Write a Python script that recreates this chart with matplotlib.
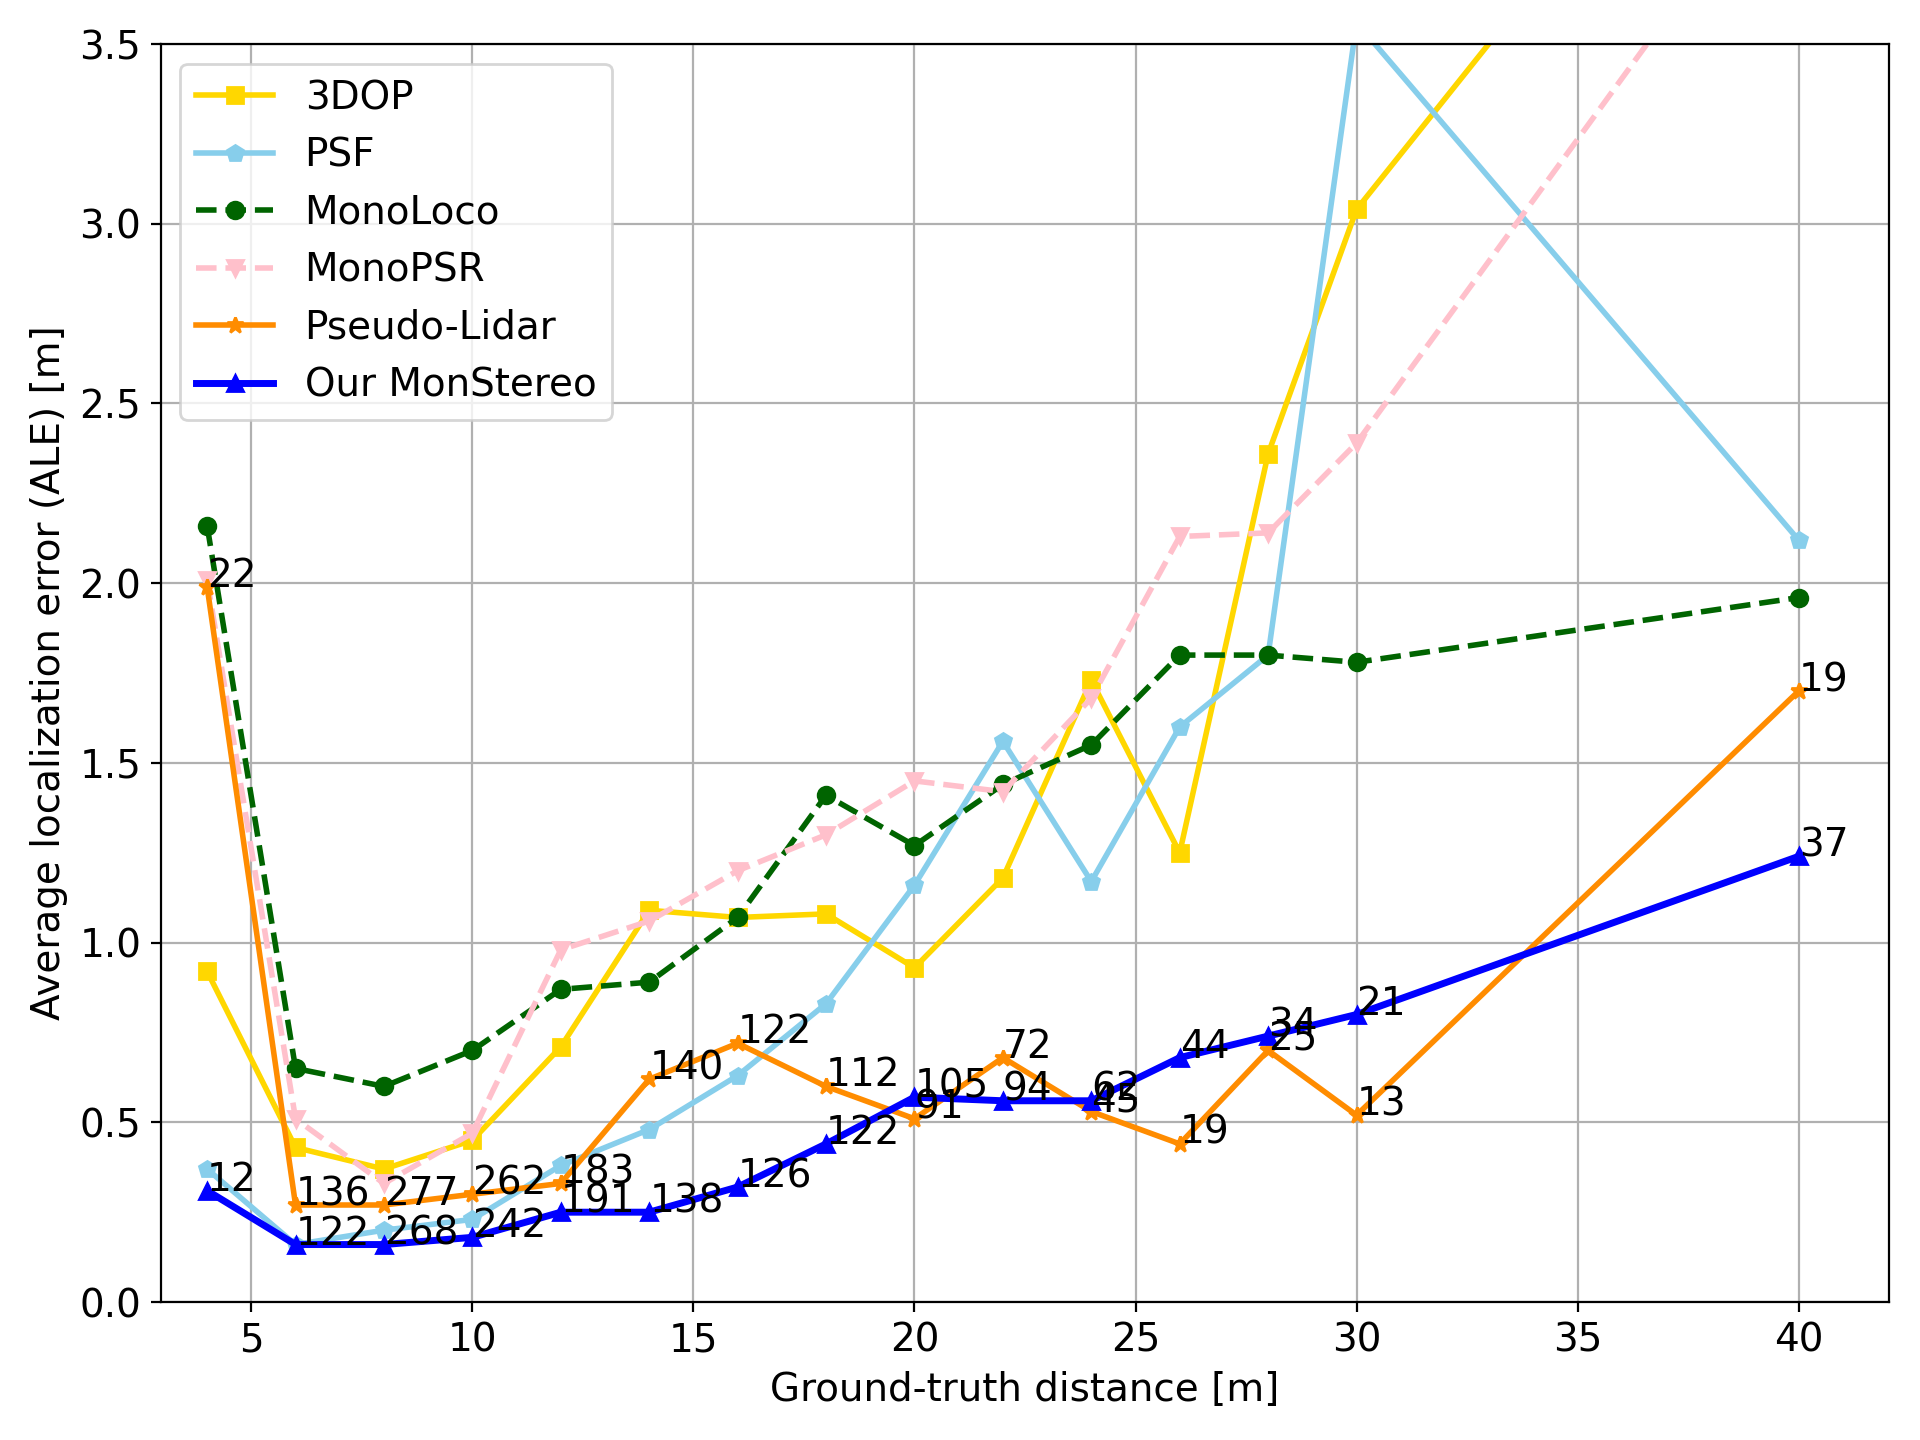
import matplotlib
matplotlib.use("Agg")
import matplotlib.pyplot as plt

# ground-truth distance bins [m]
distances = [4, 6, 8, 10, 12, 14, 16, 18, 20, 22, 24, 26, 28, 30, 40]

# average localization error per method [m]
ale_3dop = [0.92, 0.43, 0.37, 0.45, 0.71, 1.09, 1.07, 1.08, 0.93, 1.18, 1.73, 1.25, 2.36, 3.04, 4.58]
ale_psf = [0.37, 0.16, 0.20, 0.23, 0.38, 0.48, 0.63, 0.83, 1.16, 1.56, 1.17, 1.60, 1.80, 3.56, 2.12]
ale_monoloco = [2.16, 0.65, 0.60, 0.70, 0.87, 0.89, 1.07, 1.41, 1.27, 1.44, 1.55, 1.80, 1.80, 1.78, 1.96]
ale_monopsr = [2.01, 0.51, 0.33, 0.47, 0.98, 1.06, 1.20, 1.30, 1.45, 1.42, 1.68, 2.13, 2.14, 2.39, 4.08]
ale_pseudo = [1.99, 0.27, 0.27, 0.30, 0.33, 0.62, 0.72, 0.60, 0.51, 0.68, 0.53, 0.44, 0.70, 0.52, 1.70]
ale_ours = [0.31, 0.16, 0.16, 0.18, 0.25, 0.25, 0.32, 0.44, 0.57, 0.56, 0.56, 0.68, 0.74, 0.80, 1.24]

# number of instances per bin
count_pseudo = [22, 136, 277, 262, 183, 140, 122, 112, 91, 72, 45, 19, 25, 13, 19]
count_ours = [12, 122, 268, 242, 191, 138, 126, 122, 105, 94, 62, 44, 34, 21, 37]

plt.rcParams['font.size'] = 14

fig, ax = plt.subplots(figsize=(9.6, 7.2), dpi=200)

ax.plot(distances, ale_3dop, color='gold', marker='s', lw=2, label='3DOP')
ax.plot(distances, ale_psf, color='skyblue', marker='p', lw=2, label='PSF')
ax.plot(distances, ale_monoloco, color='darkgreen', marker='o', lw=2, ls='--', label='MonoLoco')
ax.plot(distances, ale_monopsr, color='pink', marker='v', lw=2, ls='--', label='MonoPSR')
ax.plot(distances, ale_pseudo, color='darkorange', marker='*', lw=2, label='Pseudo-Lidar')
ax.plot(distances, ale_ours, color='b', marker='^', lw=2.5, label='Our MonStereo')

for x, y, n in zip(distances, ale_pseudo, count_pseudo):
    ax.text(x, y, str(n))
for x, y, n in zip(distances, ale_ours, count_ours):
    ax.text(x, y, str(n))

ax.set_xlim(2.95, 42.05)
ax.set_ylim(0, 3.5)
ax.set_xlabel('Ground-truth distance [m]')
ax.set_ylabel('Average localization error (ALE) [m]')
ax.grid(True)
ax.legend(loc='upper left')

fig.subplots_adjust(left=0.0837, right=0.984, bottom=0.0958, top=0.9694)
plt.savefig('out.png')
